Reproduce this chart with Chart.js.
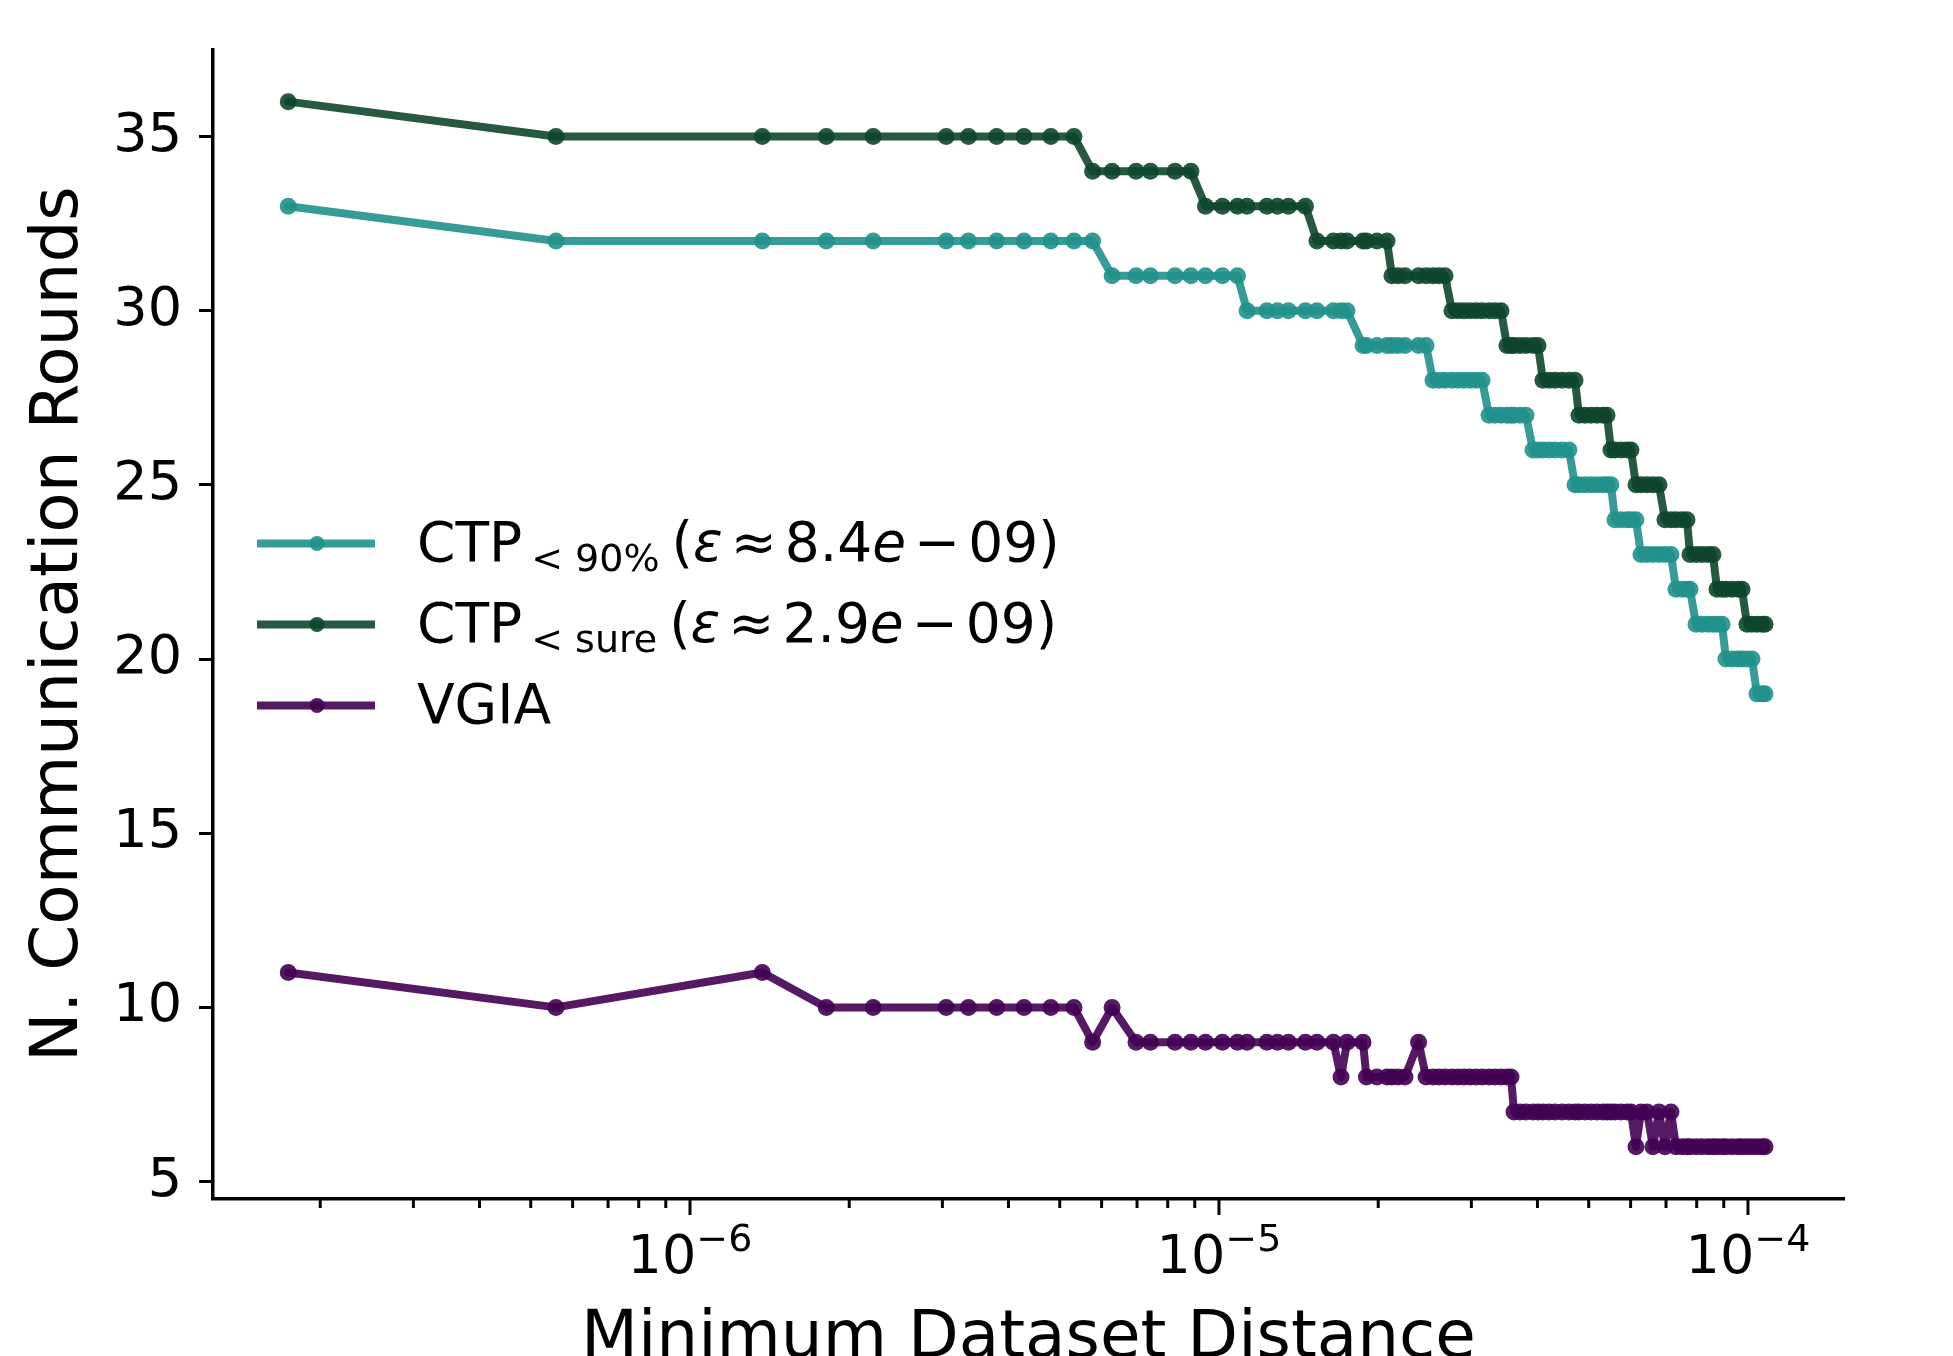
<!DOCTYPE html>
<html>
<head>
<meta charset="utf-8">
<title>Communication rounds vs minimum dataset distance</title>
<script src="https://cdn.jsdelivr.net/npm/chart.js@4"></script>
<style>
  html, body { margin: 0; padding: 0; background: #fff; }
</style>
</head>
<body>
<canvas id="roundsChart" width="1953" height="1356"></canvas>
<script type="text/javascript">
    // minimum dataset distance (shared by the three runs)
    var distance = [1.74e-7, 5.58e-7, 1.37e-6, 1.81e-6, 2.22e-6, 3.05e-6, 3.36e-6, 3.80e-6, 4.28e-6, 4.81e-6,
        5.32e-6, 5.77e-6, 6.28e-6, 6.97e-6, 7.42e-6, 8.26e-6, 8.85e-6, 9.43e-6, 1.015e-5, 1.084e-5,
        1.130e-5, 1.232e-5, 1.290e-5, 1.353e-5, 1.457e-5, 1.532e-5, 1.646e-5, 1.701e-5, 1.746e-5, 1.872e-5,
        1.900e-5, 1.989e-5, 2.078e-5, 2.123e-5, 2.180e-5, 2.247e-5, 2.384e-5, 2.463e-5, 2.539e-5, 2.606e-5,
        2.675e-5, 2.757e-5, 2.830e-5, 2.905e-5, 2.982e-5, 3.061e-5, 3.143e-5, 3.240e-5, 3.324e-5, 3.413e-5,
        3.503e-5, 3.565e-5, 3.612e-5, 3.707e-5, 3.805e-5, 3.923e-5, 4.009e-5, 4.097e-5, 4.206e-5, 4.317e-5,
        4.450e-5, 4.587e-5, 4.710e-5, 4.792e-5, 4.919e-5, 5.049e-5, 5.183e-5, 5.320e-5, 5.414e-5, 5.508e-5,
        5.605e-5, 5.753e-5, 5.906e-5, 6.009e-5, 6.142e-5, 6.277e-5, 6.443e-5, 6.614e-5, 6.789e-5, 6.967e-5,
        7.152e-5, 7.310e-5, 7.504e-5, 7.669e-5, 7.770e-5, 7.976e-5, 8.185e-5, 8.403e-5, 8.587e-5, 8.739e-5,
        8.932e-5, 9.086e-5, 9.328e-5, 9.574e-5, 9.743e-5, 9.957e-5, 1.0176e-4, 1.040e-4, 1.063e-4, 1.077e-4];

    var roundsCtp90 = [33, 32, 32, 32, 32, 32, 32, 32, 32, 32, 32, 32,
        31, 31, 31, 31, 31, 31, 31, 31,
        30, 30, 30, 30, 30, 30, 30, 30, 30,
        29, 29, 29, 29, 29, 29, 29, 29, 29,
        28, 28, 28, 28, 28, 28, 28, 28, 28,
        27, 27, 27, 27, 27, 27, 27, 27,
        26, 26, 26, 26, 26, 26, 26,
        25, 25, 25, 25, 25, 25, 25, 25,
        24, 24, 24, 24, 24,
        23, 23, 23, 23, 23, 23,
        22, 22, 22, 22,
        21, 21, 21, 21, 21, 21,
        20, 20, 20, 20, 20, 20,
        19, 19, 19];

    var roundsCtpSure = [36, 35, 35, 35, 35, 35, 35, 35, 35, 35, 35,
        34, 34, 34, 34, 34, 34,
        33, 33, 33, 33, 33, 33, 33, 33,
        32, 32, 32, 32, 32, 32, 32, 32,
        31, 31, 31, 31, 31, 31, 31, 31,
        30, 30, 30, 30, 30, 30, 30, 30, 30,
        29, 29, 29, 29, 29, 29, 29,
        28, 28, 28, 28, 28, 28,
        27, 27, 27, 27, 27, 27,
        26, 26, 26, 26, 26,
        25, 25, 25, 25, 25,
        24, 24, 24, 24, 24,
        23, 23, 23, 23, 23,
        22, 22, 22, 22, 22, 22,
        21, 21, 21, 21, 21];

    var roundsVgia = [11, 10, 11, 10, 10, 10, 10, 10, 10, 10, 10,
        9, 10, 9, 9, 9, 9, 9, 9, 9, 9, 9, 9, 9, 9, 9, 9,
        8, 9, 9, 8, 8, 8, 8, 8, 8, 9,
        8, 8, 8, 8, 8, 8, 8, 8, 8, 8, 8, 8, 8, 8, 8,
        7, 7, 7, 7, 7, 7, 7, 7, 7, 7, 7, 7, 7, 7, 7, 7, 7, 7, 7, 7, 7, 7,
        6, 7, 7, 6, 7, 6, 7,
        6, 6, 6, 6, 6, 6, 6, 6, 6, 6, 6, 6, 6, 6, 6, 6, 6, 6, 6];

    var yTicks = [5, 10, 15, 20, 25, 30, 35];
    var xMajor = [1e-6, 1e-5, 1e-4];
    var xMajorExp = ['\u22126', '\u22125', '\u22124'];
    var xMinor = [2e-7, 3e-7, 4e-7, 5e-7, 6e-7, 7e-7, 8e-7, 9e-7,
        2e-6, 3e-6, 4e-6, 5e-6, 6e-6, 7e-6, 8e-6, 9e-6,
        2e-5, 3e-5, 4e-5, 5e-5, 6e-5, 7e-5, 8e-5, 9e-5];

    var seriesNames = ['CTP<90%', 'CTP<sure', 'VGIA'];
    var legendSubs = ['< 90%', '< sure', null];
    var legendEps = ['8.4', '2.9', null];
    var colors = ['rgba(33,145,140,0.9)', 'rgba(14,70,45,0.9)', 'rgba(68,1,84,0.9)'];

    var FONT = '"DejaVu Sans", sans-serif';

    function points(ys) {
        return distance.map(function (d, i) { return { x: d, y: ys[i] }; });
    }

    function makeSet(i, ys) {
        return {
            label: seriesNames[i],
            data: points(ys),
            borderColor: colors[i],
            backgroundColor: colors[i],
            pointBackgroundColor: colors[i],
            pointBorderWidth: 0,
            pointRadius: 8.5,
            borderWidth: 8,
            borderJoinStyle: 'round',
            borderCapStyle: 'round',
            tension: 0
        };
    }

    // tick marks + 10^k labels for the log axis, and the legend
    var decor = {
        id: 'decor',
        afterDraw: function (chart) {
            var ctx = chart.ctx;
            var xs = chart.scales.x;
            var area = chart.chartArea;
            ctx.save();
            ctx.strokeStyle = '#000';
            ctx.lineWidth = 3;
            ctx.lineCap = 'butt';
            xMinor.forEach(function (v) {
                var px = xs.getPixelForValue(v);
                ctx.beginPath(); ctx.moveTo(px, xs.top); ctx.lineTo(px, xs.top + 9); ctx.stroke();
            });
            xMajor.forEach(function (v, i) {
                var px = xs.getPixelForValue(v);
                ctx.beginPath(); ctx.moveTo(px, xs.top); ctx.lineTo(px, xs.top + 16); ctx.stroke();
                ctx.fillStyle = '#000';
                ctx.textBaseline = 'alphabetic';
                ctx.textAlign = 'left';
                ctx.font = '54px ' + FONT;
                var w1 = ctx.measureText('10').width;
                ctx.font = '38px ' + FONT;
                var w2 = ctx.measureText(xMajorExp[i]).width;
                var x0 = px - (w1 + w2) / 2;
                var base = xs.top + 74;
                ctx.font = '54px ' + FONT;
                ctx.fillText('10', x0, base);
                ctx.font = '38px ' + FONT;
                ctx.fillText(xMajorExp[i], x0 + w1, base - 22);
            });

            // legend
            var lx = area.left + 44;
            var ly = area.top + 494;
            var rowGap = 81;
            for (var i = 0; i < 3; i++) {
                var y = ly + i * rowGap;
                ctx.strokeStyle = colors[i];
                ctx.lineWidth = 8;
                ctx.beginPath(); ctx.moveTo(lx, y); ctx.lineTo(lx + 118, y); ctx.stroke();
                ctx.fillStyle = colors[i];
                ctx.beginPath(); ctx.arc(lx + 60, y, 7.5, 0, Math.PI * 2); ctx.fill();

                ctx.fillStyle = '#000';
                ctx.textAlign = 'left';
                ctx.textBaseline = 'alphabetic';
                var tx = lx + 160;
                var base = y + 18;
                ctx.font = '55px ' + FONT;
                if (!legendSubs[i]) {
                    ctx.fillText(seriesNames[i], tx, base);
                    continue;
                }
                ctx.fillText('CTP', tx, base);
                tx += ctx.measureText('CTP').width + 9;
                ctx.font = '38px ' + FONT;
                ctx.fillText(legendSubs[i], tx, base + 10);
                tx += ctx.measureText(legendSubs[i]).width + 12;
                // [text, style, gap after]
                var parts = [['(', '', 0], ['\u03b5', 'italic ', 8], ['\u2248', '', 8], [legendEps[i], '', 0],
                    ['e', 'italic ', 8], ['\u2212', '', 8], ['09)', '', 0]];
                parts.forEach(function (p) {
                    ctx.font = p[1] + '55px ' + FONT;
                    ctx.fillText(p[0], tx, base);
                    tx += ctx.measureText(p[0]).width + p[2];
                });
            }
            ctx.restore();
        }
    };

    var ctx = document.getElementById('roundsChart').getContext('2d');
    var roundsChart = new Chart(ctx, {
        type: 'line',
        data: {
            datasets: [
                makeSet(0, roundsCtp90),
                makeSet(1, roundsCtpSure),
                makeSet(2, roundsVgia)
            ]
        },
        options: {
            responsive: false,
            animation: false,
            layout: { padding: { left: 0, top: 42, right: 109, bottom: 0 } },
            plugins: {
                legend: { display: false },
                tooltip: { enabled: false }
            },
            scales: {
                x: {
                    type: 'logarithmic',
                    min: 1.254e-7,
                    max: 1.519e-4,
                    grid: { display: false },
                    border: { display: true, color: '#000', width: 3.5 },
                    ticks: { display: false },
                    afterBuildTicks: function (scale) {
                        scale.ticks = xMajor.map(function (v) { return { value: v, major: true }; });
                    },
                    afterFit: function (scale) { scale.height = 157; },
                    title: {
                        display: true,
                        text: 'Minimum Dataset Distance',
                        color: '#000',
                        font: { family: FONT, size: 66, lineHeight: 0.5 },
                        padding: { top: 0, bottom: 0 }
                    }
                },
                y: {
                    min: 4.5,
                    max: 37.5,
                    grid: {
                        display: true,
                        drawOnChartArea: false,
                        drawTicks: true,
                        tickLength: 14,
                        tickWidth: 3,
                        tickColor: '#000'
                    },
                    border: { display: true, color: '#000', width: 3.5 },
                    ticks: {
                        padding: 17,
                        color: '#000',
                        font: { family: FONT, size: 54 }
                    },
                    afterBuildTicks: function (scale) {
                        scale.ticks = yTicks.map(function (v) { return { value: v }; });
                    },
                    afterFit: function (scale) { scale.width = 213; },
                    title: {
                        display: true,
                        text: 'N. Communication Rounds',
                        color: '#000',
                        font: { family: FONT, size: 66, lineHeight: 1.2 },
                        padding: { top: 20, bottom: 0 }
                    }
                }
            }
        },
        plugins: [decor]
    });
</script>
</body>
</html>
